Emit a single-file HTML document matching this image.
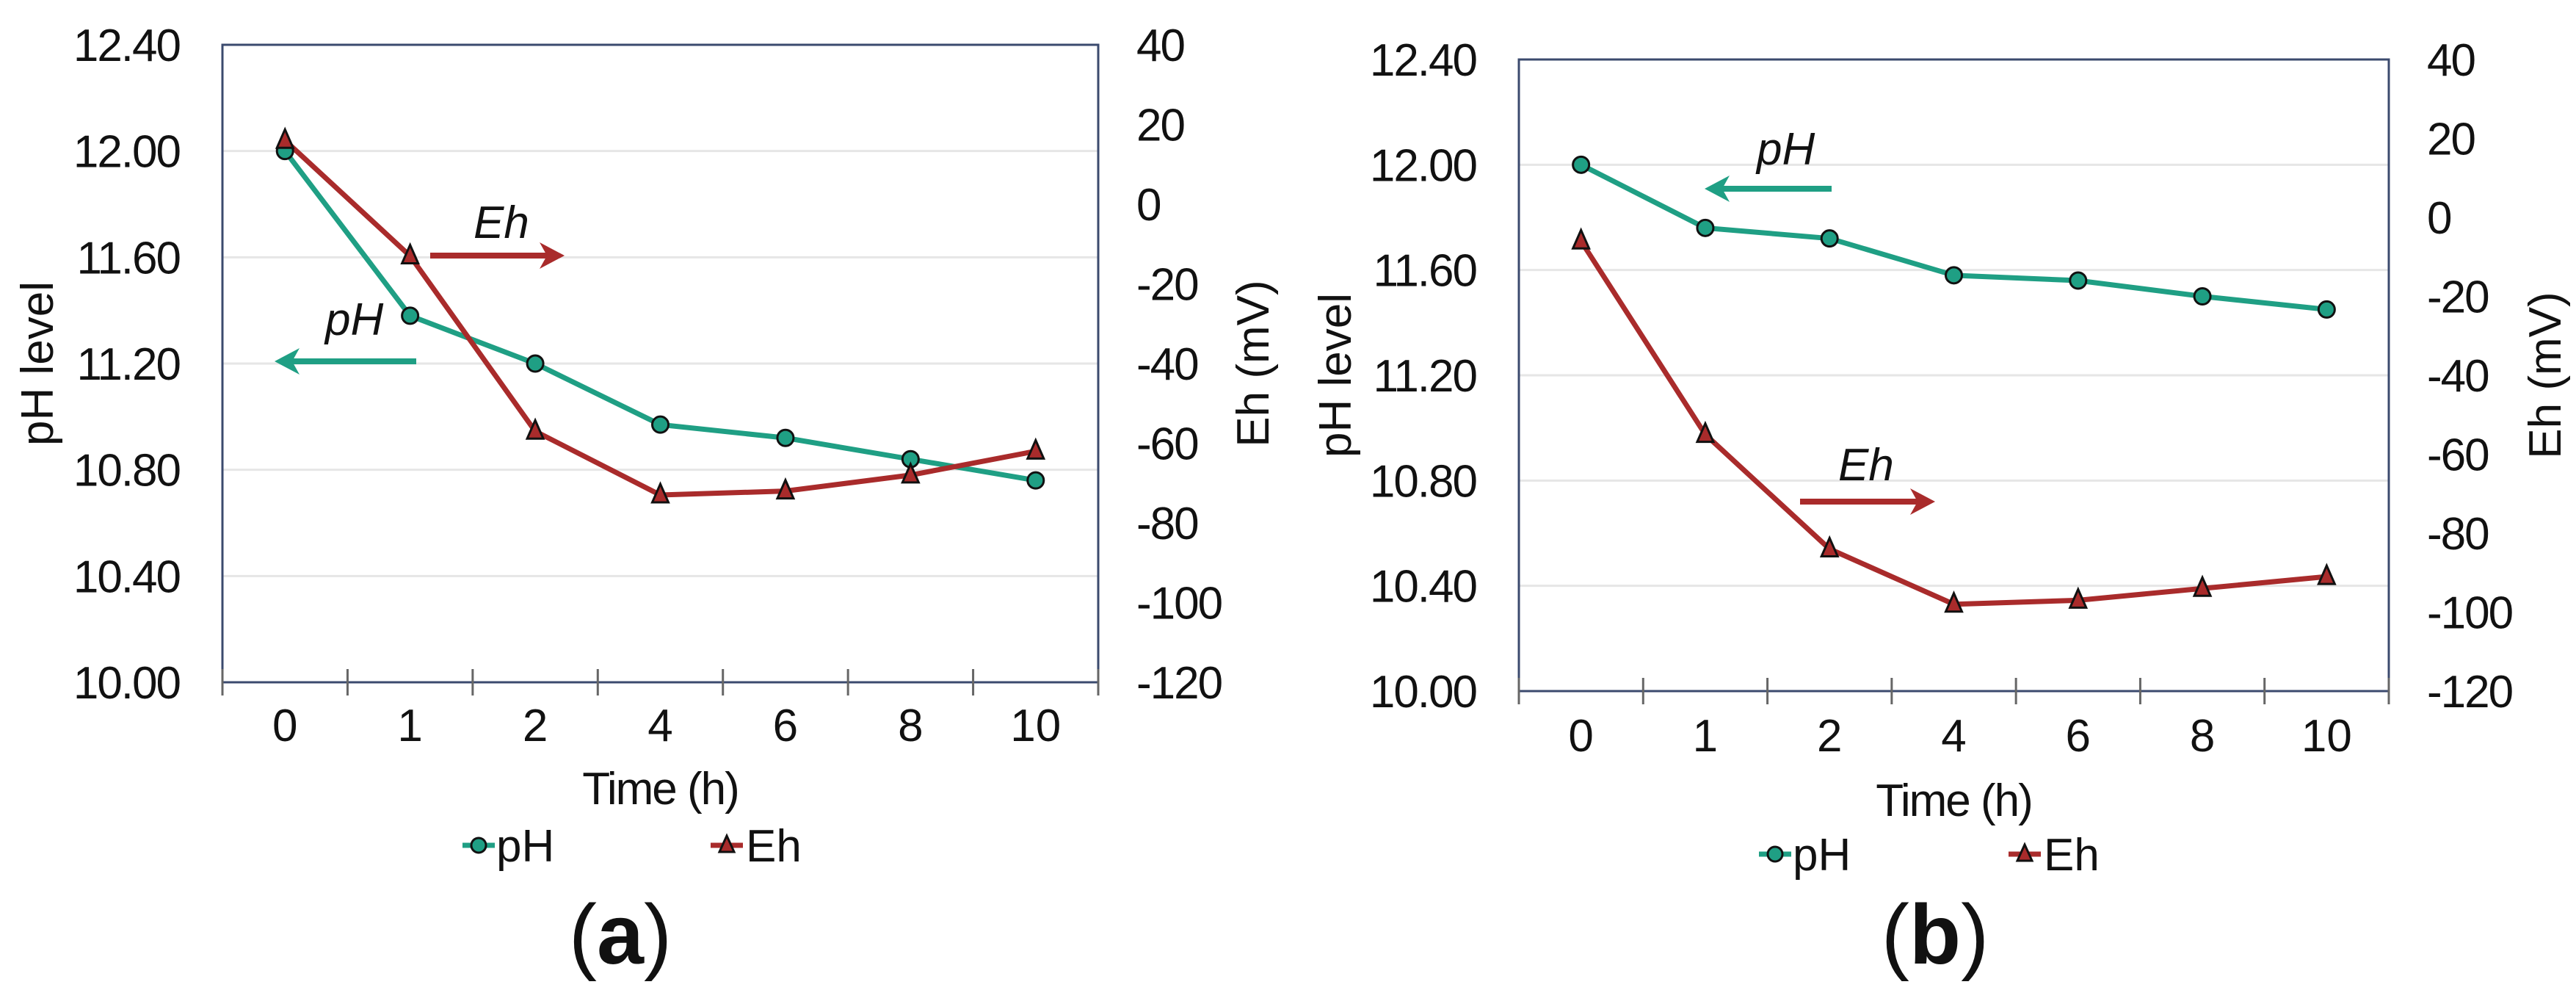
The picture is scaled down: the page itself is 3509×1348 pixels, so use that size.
<!DOCTYPE html>
<html><head><meta charset="utf-8"><style>
html,body{margin:0;padding:0;background:#fff;}
svg{display:block;font-family:"Liberation Sans",Arial,sans-serif;}
</style></head><body>
<svg id="fig" width="3509" height="1348" viewBox="0 0 3509 1348" xmlns="http://www.w3.org/2000/svg"></svg>
<script>
const categories = ["0","1","2","4","6","8","10"];
const phA = [12.00, 11.38, 11.20, 10.97, 10.92, 10.84, 10.76];
const ehA = [16, -13, -57, -73, -72, -68, -62];
const phB = [12.00, 11.76, 11.72, 11.58, 11.56, 11.50, 11.45];
const ehB = [-6, -55, -84, -98, -97, -94, -91];
const phTicks = ["10.00","10.40","10.80","11.20","11.60","12.00","12.40"];
const ehTicks = ["-120","-100","-80","-60","-40","-20","0","20","40"];

const NS = "http://www.w3.org/2000/svg";
const svg = document.getElementById('fig');
const GREEN = "#1f9f84", RED = "#a92b2b";

function mk(tag, attrs, parent, text) {
  const e = document.createElementNS(NS, tag);
  for (const k in attrs) e.setAttribute(k, attrs[k]);
  if (text !== undefined) e.textContent = text;
  (parent || svg).appendChild(e);
  return e;
}

function drawChart(id, L, R, T, B, ph, eh, opt) {
  const g = mk('g', {});
  
  
  const n = categories.length;
  const cw = (R - L) / n;
  const xAt = i => L + cw * (i + 0.5);
  const yPh = v => B - (v - 10.0) / 2.4 * (B - T);
  const yEh = v => B - (v + 120) / 160 * (B - T);

  phTicks.forEach((t, i) => {
    const y = yPh(parseFloat(t));
    if (i > 0 && i < phTicks.length - 1) {
      const gl = mk('line', {x1: L, x2: R, y1: y, y2: y, stroke: '#e6e6e6', 'stroke-width': 3}, g);
      
      
    }
    const tl = mk('text', {x: L - 58, y: y + 22, 'text-anchor': 'end', 'font-size': 62, fill: '#111', 'letter-spacing': -2}, g, t);
    
    
  });
  ehTicks.forEach(t => {
    const y = yEh(parseFloat(t));
    const tl = mk('text', {x: R + 52, y: y + 22, 'text-anchor': 'start', 'font-size': 62, fill: '#111', 'letter-spacing': -2}, g, t);
    
    
  });
  const fr = mk('rect', {x: L, y: T, width: R - L, height: B - T, fill: 'none', stroke: '#3b4a6e', 'stroke-width': 3}, g);
  
  
  for (let i = 0; i <= n; i++) {
    const x = L + cw * i;
    const tk = mk('line', {x1: x, x2: x, y1: B - 18, y2: B + 18, stroke: '#666', 'stroke-width': 3}, g);
    
    
  }
  categories.forEach((c, i) => {
    const tl = mk('text', {x: xAt(i), y: B + opt.xlabDy, 'text-anchor': 'middle', 'font-size': 62, fill: '#111'}, g, c);
    
    
  });
  const xt = mk('text', {x: (L + R) / 2, y: B + opt.xtitleDy, 'text-anchor': 'middle', 'font-size': 62, fill: '#111', 'letter-spacing': -2}, g, 'Time (h)');
  
  
  const cy = (T + B) / 2;
  const yt = mk('text', {x: opt.ltitleX, y: cy, 'text-anchor': 'middle', 'font-size': 62, fill: '#111', transform: `rotate(-90 ${opt.ltitleX} ${cy})`}, g, 'pH level');
  
  
  const yt2 = mk('text', {x: opt.rtitleX, y: cy, 'text-anchor': 'middle', 'font-size': 62, fill: '#111', transform: `rotate(-90 ${opt.rtitleX} ${cy})`}, g, 'Eh (mV)');
  
  

  const phPts = ph.map((v, i) => xAt(i) + ',' + yPh(v)).join(' ');
  const ehPts = eh.map((v, i) => xAt(i) + ',' + yEh(v)).join(' ');
  const l1 = mk('polyline', {points: phPts, fill: 'none', stroke: GREEN, 'stroke-width': 7}, g);
  
  
  const l2 = mk('polyline', {points: ehPts, fill: 'none', stroke: RED, 'stroke-width': 7}, g);
  
  
  ph.forEach((v, i) => {
    const m = mk('circle', {cx: xAt(i), cy: yPh(v), r: 11, fill: GREEN, stroke: '#111', 'stroke-width': 3}, g);
    
    
  });
  eh.forEach((v, i) => {
    const x = xAt(i), y = yEh(v);
    const m = mk('polygon', {points: `${x},${y-15} ${x-11},${y+10} ${x+11},${y+10}`, fill: RED, stroke: '#111', 'stroke-width': 3}, g);
    
    
  });

  function arrow(x1, x2, y, col, name) {
    const dir = Math.sign(x2 - x1);
    const a = mk('g', {}, g);
    
    
    mk('line', {x1: x1, x2: x2 - dir * 20, y1: y, y2: y, stroke: col, 'stroke-width': 8}, a);
    mk('polygon', {points: `${x2},${y} ${x2 - dir * 34},${y - 18} ${x2 - dir * 24},${y} ${x2 - dir * 34},${y + 18}`, fill: col}, a);
  }
  const at1 = mk('text', {x: opt.phLab[0], y: opt.phLab[1], 'font-size': 62, 'font-style': 'italic', fill: '#111'}, g, 'pH');
  
  
  arrow(opt.phArr[0], opt.phArr[1], opt.phArr[2], GREEN, 'ph-arrow');
  const at2 = mk('text', {x: opt.ehLab[0], y: opt.ehLab[1], 'font-size': 62, 'font-style': 'italic', fill: '#111'}, g, 'Eh');
  
  
  arrow(opt.ehArr[0], opt.ehArr[1], opt.ehArr[2], RED, 'eh-arrow');

  const lg = mk('g', {}, g);
  
  
  const [px, ex, ly] = opt.legend;
  const e1 = mk('g', {}, lg);
  
  
  mk('line', {x1: px - 22, x2: px + 22, y1: ly, y2: ly, stroke: GREEN, 'stroke-width': 7}, e1);
  mk('circle', {cx: px, cy: ly, r: 10, fill: GREEN, stroke: '#111', 'stroke-width': 3}, e1);
  mk('text', {x: px + 24, y: ly + 22, 'font-size': 62, fill: '#111'}, e1, 'pH');
  const e2 = mk('g', {}, lg);
  
  
  mk('line', {x1: ex - 22, x2: ex + 22, y1: ly, y2: ly, stroke: RED, 'stroke-width': 7}, e2);
  mk('polygon', {points: `${ex},${ly-13} ${ex-10},${ly+9} ${ex+10},${ly+9}`, fill: RED, stroke: '#111', 'stroke-width': 3}, e2);
  mk('text', {x: ex + 26, y: ly + 22, 'font-size': 62, fill: '#111'}, e2, 'Eh');

  const pl = mk('text', {x: opt.panel[0], y: opt.panel[1], 'text-anchor': 'middle', 'font-size': 115, fill: '#111'}, g);
  
  
  mk('tspan', {}, pl, '(');
  mk('tspan', {'font-weight': 'bold'}, pl, id);
  mk('tspan', {}, pl, ')');
}

drawChart('a', 303, 1496, 61, 929, phA, ehA, {
  xlabDy: 80, xtitleDy: 166, ltitleX: 72, rtitleX: 1728,
  phLab: [443, 456], phArr: [567, 374, 492],
  ehLab: [645, 324], ehArr: [586, 769, 348],
  legend: [652, 990, 1151], panel: [845, 1312]
});
drawChart('b', 2069, 3254, 81, 941, phB, ehB, {
  xlabDy: 82, xtitleDy: 170, ltitleX: 1840, rtitleX: 3488,
  phLab: [2393, 224], phArr: [2495, 2322, 257],
  ehLab: [2504, 654], ehArr: [2452, 2636, 683],
  legend: [2418, 2758, 1163], panel: [2636, 1312]
});
</script>
</body></html>
